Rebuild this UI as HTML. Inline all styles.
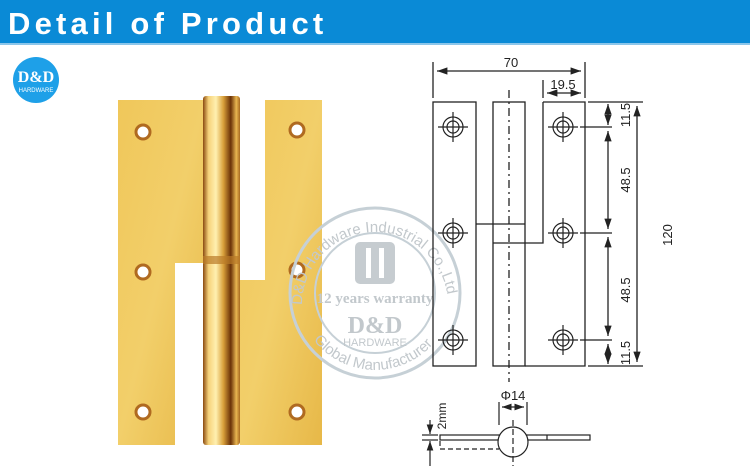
<!DOCTYPE html>
<html><head><meta charset="utf-8"><style>
body{margin:0;background:#fff;}
svg{display:block;}
</style></head><body>
<svg width="750" height="474" viewBox="0 0 750 474" xmlns="http://www.w3.org/2000/svg" font-family="Liberation Sans, sans-serif">
<defs>
<linearGradient id="gold" x1="0" y1="0" x2="1" y2="1">
<stop offset="0" stop-color="#f0c75a"/><stop offset="0.5" stop-color="#f2cf6a"/><stop offset="1" stop-color="#e7b848"/>
</linearGradient>
<linearGradient id="knuckle" x1="0" y1="0" x2="1" y2="0">
<stop offset="0" stop-color="#8a4a10"/><stop offset="0.15" stop-color="#f6d27a"/><stop offset="0.35" stop-color="#fff0b0"/><stop offset="0.55" stop-color="#d9a03a"/><stop offset="0.75" stop-color="#6b3208"/><stop offset="0.9" stop-color="#e8b550"/><stop offset="1" stop-color="#a86a20"/>
</linearGradient>
<marker id="ar" viewBox="0 0 10 10" refX="10" refY="5" markerWidth="8" markerHeight="8" orient="auto-start-reverse"><path d="M0,1.5 L10,5 L0,8.5 z" fill="#222"/></marker>
<g id="h" stroke="#222" stroke-width="1.2" fill="none"><circle r="10"/><circle r="6"/><line x1="-15" y1="0" x2="15" y2="0"/><line x1="0" y1="-15" x2="0" y2="15"/></g>
</defs>
<!-- header -->
<rect x="0" y="0" width="750" height="43" fill="#0a8ad6"/>
<rect x="0" y="43" width="750" height="2" fill="#8cc6ea"/>
<text x="8" y="34" font-size="31" font-weight="bold" fill="#fff" letter-spacing="4.2">Detail of Product</text>
<!-- logo -->
<circle cx="36" cy="80" r="23" fill="#1ea0e8"/>
<text x="36" y="82" font-family="Liberation Serif, serif" font-size="16" font-weight="bold" fill="#fff" text-anchor="middle">D&amp;D</text>
<text x="36" y="92" font-size="6" fill="#fff" text-anchor="middle">HARDWARE</text>
<!-- hinge photo -->
<path d="M118,100 H205 V263 H175 V445 H118 Z" fill="url(#gold)"/>
<path d="M265,100 H322 V445 H240 V280 H265 Z" fill="url(#gold)"/>
<rect x="203" y="96" width="37" height="349" rx="3" fill="url(#knuckle)"/>
<rect x="203" y="256" width="37" height="8" fill="#b97a28" opacity="0.7"/>
<g fill="#fff" stroke="#b06a20" stroke-width="3">
<circle cx="143" cy="132" r="7"/><circle cx="297" cy="130" r="7"/>
<circle cx="143" cy="272" r="7"/><circle cx="297" cy="270" r="7"/>
<circle cx="143" cy="412" r="7"/><circle cx="297" cy="412" r="7"/>
</g>
<!-- watermark -->
<g fill="none" stroke="#c6d0d6" stroke-width="3">
<circle cx="375" cy="293" r="85"/>
<circle cx="375" cy="293" r="60" stroke-width="2"/>
</g>
<rect x="355" y="242" width="40" height="42" rx="5" fill="#c6ccd0"/>
<rect x="366" y="248" width="5" height="30" fill="#fff"/><rect x="379" y="248" width="5" height="30" fill="#fff"/>
<text x="375" y="303" font-family="Liberation Serif, serif" font-size="15" font-weight="bold" fill="#c2c8cc" text-anchor="middle">12 years warranty</text>
<text x="375" y="333" font-family="Liberation Serif, serif" font-size="24" font-weight="bold" fill="#c2c8cc" text-anchor="middle">D&amp;D</text>
<text x="375" y="346" font-size="11" fill="#c2c8cc" text-anchor="middle">HARDWARE</text>
<path id="arcT" d="M302,305 A73,73 0 0 1 448,305" fill="none"/>
<text font-size="15" fill="#c2c8cc"><textPath href="#arcT">D&amp;D Hardware Industrial Co.,Ltd</textPath></text>
<path id="arcB" d="M310,335 A78,78 0 0 0 440,335" fill="none"/>
<text font-size="15" fill="#c2c8cc"><textPath href="#arcB" startOffset="6">Global Manufacturer</textPath></text>
<!-- drawing -->
<g stroke="#222" stroke-width="1.3" fill="none">
<rect x="433" y="102" width="43" height="264"/>
<rect x="493" y="102" width="32" height="264"/>
<line x1="476" y1="224" x2="525" y2="224"/>
<path d="M543,102 H585 V366 H525 M543,102 V243 H493"/>
<line x1="509" y1="90" x2="509" y2="382" stroke-dasharray="8,4,2,4"/>
<line x1="433" y1="62" x2="433" y2="98"/><line x1="585" y1="62" x2="585" y2="98"/>
<line x1="543" y1="80" x2="543" y2="98"/>
<line x1="437" y1="71" x2="581" y2="71" marker-start="url(#ar)" marker-end="url(#ar)"/>
<line x1="547" y1="93" x2="581" y2="93" marker-start="url(#ar)" marker-end="url(#ar)"/>
<line x1="588" y1="102" x2="643" y2="102"/><line x1="588" y1="366" x2="643" y2="366"/>
<line x1="580" y1="127" x2="612" y2="127"/><line x1="580" y1="233" x2="612" y2="233"/><line x1="580" y1="340" x2="612" y2="340"/>
<line x1="608" y1="104" x2="608" y2="125" marker-start="url(#ar)" marker-end="url(#ar)"/>
<line x1="608" y1="131" x2="608" y2="229" marker-start="url(#ar)" marker-end="url(#ar)"/>
<line x1="608" y1="237" x2="608" y2="336" marker-start="url(#ar)" marker-end="url(#ar)"/>
<line x1="608" y1="344" x2="608" y2="364" marker-start="url(#ar)" marker-end="url(#ar)"/>
<line x1="637" y1="106" x2="637" y2="362" marker-start="url(#ar)" marker-end="url(#ar)"/>
</g>
<use href="#h" x="453" y="127"/><use href="#h" x="563" y="127"/>
<use href="#h" x="453" y="233"/><use href="#h" x="563" y="233"/>
<use href="#h" x="453" y="340"/><use href="#h" x="563" y="340"/>
<g fill="#222" font-size="13">
<text x="511" y="67" text-anchor="middle">70</text>
<text x="563" y="89" text-anchor="middle">19.5</text>
<text transform="translate(630,115) rotate(-90)" text-anchor="middle">11.5</text>
<text transform="translate(630,180) rotate(-90)" text-anchor="middle">48.5</text>
<text transform="translate(630,290) rotate(-90)" text-anchor="middle">48.5</text>
<text transform="translate(630,353) rotate(-90)" text-anchor="middle">11.5</text>
<text transform="translate(672,235) rotate(-90)" text-anchor="middle">120</text>
<text x="513" y="400" text-anchor="middle">Φ14</text>
<text transform="translate(446,416) rotate(-90)" text-anchor="middle" font-size="12">2mm</text>
</g>
<!-- section -->
<g stroke="#222" stroke-width="1.2" fill="none">
<line x1="499" y1="402" x2="499" y2="425"/><line x1="527" y1="402" x2="527" y2="425"/>
<line x1="502" y1="407" x2="524" y2="407" marker-start="url(#ar)" marker-end="url(#ar)"/>
<rect x="440" y="435" width="150" height="5"/>
<line x1="547" y1="435" x2="547" y2="440"/>
<path d="M440,441 V449 H499" stroke-dasharray="5,3"/>
<circle cx="513" cy="442" r="15" fill="#fff"/>
<line x1="513" y1="420" x2="513" y2="466" stroke-dasharray="6,3"/>
<line x1="422" y1="435" x2="438" y2="435"/><line x1="422" y1="440" x2="438" y2="440"/>
<line x1="430" y1="420" x2="430" y2="434" marker-end="url(#ar)"/>
<line x1="430" y1="466" x2="430" y2="441" marker-end="url(#ar)"/>
</g>
</svg>
</body></html>
